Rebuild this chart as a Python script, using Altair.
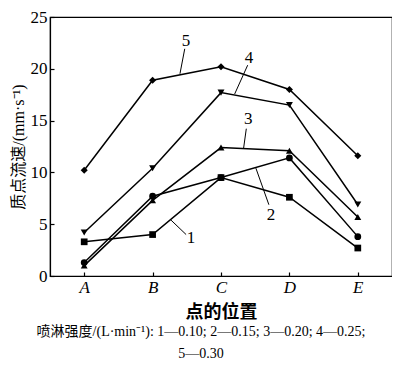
import altair as alt
import pandas as pd

categories = ["A", "B", "C", "D", "E"]
series_names = ["1", "2", "3", "4", "5"]
s1 = [3.3, 4.0, 9.5, 7.6, 2.7]
s2 = [1.3, 7.7, 9.5, 11.4, 3.8]
s3 = [1.0, 7.3, 12.4, 12.1, 5.7]
s4 = [4.2, 10.4, 17.7, 16.5, 6.9]
s5 = [10.2, 18.9, 20.2, 18.0, 11.6]

# annotation labels (data coordinates: x = category index, y = value)
label_text = ["1", "2", "3", "4", "5"]
label_x = [1.56, 2.73, 2.40, 2.41, 1.49]
label_y = [3.62, 5.86, 15.15, 21.0, 22.68]
lead_x = [1.49, 2.70, 2.37, 2.39, 1.47]
lead_y = [4.0, 6.88, 14.22, 20.35, 21.93]
lead_x2 = [1.27, 2.51, 2.33, 2.20, 1.40]
lead_y2 = [5.39, 10.41, 12.31, 17.57, 19.52]

caption = ["喷淋强度/(L·min⁻¹): 1—0.10; 2—0.15; 3—0.20; 4—0.25;", "5—0.30"]

SERIF = "Liberation Serif, Noto Sans CJK SC"

rows = []
for name, vals in zip(series_names, [s1, s2, s3, s4, s5]):
    for i, (c, v) in enumerate(zip(categories, vals)):
        rows.append({"series": name, "idx": i, "cat": c, "v": v})
df = pd.DataFrame(rows)

ann = pd.DataFrame({"t": label_text, "x": label_x, "y": label_y,
                    "lx": lead_x, "ly": lead_y, "lx2": lead_x2, "ly2": lead_y2})

label_expr = "[" + ",".join("'%s'" % c for c in categories) + "][datum.value]"

xscale = alt.Scale(domain=[-0.5, 4.5], nice=False, zero=False)
yscale = alt.Scale(domain=[0, 25], nice=False)

x_main = alt.X("idx:Q", scale=xscale, axis=alt.Axis(
    values=[0, 1, 2, 3, 4], labelExpr=label_expr, ticks=False, grid=False,
    labelFont="Liberation Serif", labelFontStyle="italic", labelFontSize=17,
    labelPadding=3, domainColor="black", domainWidth=1.2, labelColor="black",
    title="点的位置", titleFont=SERIF, titleFontSize=18, titleFontWeight="bold",
    titlePadding=8, titleColor="black"))
y_main = alt.Y("v:Q", scale=yscale, axis=alt.Axis(
    values=[0, 5, 10, 15, 20, 25], ticks=False, grid=False,
    labelFont="Liberation Serif", labelFontSize=17, labelPadding=3,
    domainColor="black", domainWidth=1.2, labelColor="black",
    title="质点流速/(mm·s⁻¹)", titleFont=SERIF, titleFontSize=16,
    titleFontWeight="normal", titlePadding=4, titleColor="black"))

base = alt.Chart(df)
lines = base.mark_line(color="black", strokeWidth=1.5).encode(
    x=x_main, y=y_main, detail="series:N")
points = base.mark_point(filled=True, color="black", opacity=1).encode(
    x="idx:Q", y="v:Q",
    shape=alt.Shape("series:N", scale=alt.Scale(
        domain=series_names,
        range=["square", "circle", "triangle-up", "triangle-down", "diamond"]), legend=None),
    size=alt.Size("series:N", scale=alt.Scale(
        domain=series_names, range=[45, 50, 40, 40, 25]), legend=None))

leaders = alt.Chart(ann).mark_rule(color="black", strokeWidth=1).encode(
    x="lx:Q", y="ly:Q", x2="lx2:Q", y2="ly2:Q")
labels = alt.Chart(ann).mark_text(font="Liberation Serif", fontSize=17, color="black").encode(
    x="x:Q", y="y:Q", text="t:N")

main = alt.layer(lines, points, leaders, labels)

ticks_layer = base.mark_point(opacity=0).encode(
    x=alt.X("idx:Q", scale=xscale, axis=alt.Axis(
        orient="bottom", values=[0, 1, 2, 3, 4], labels=False, domain=False,
        grid=False, ticks=True, tickSize=4, tickColor="black", tickWidth=1.2,
        offset=-4, title=None)),
    y=alt.Y("v:Q", scale=yscale, axis=alt.Axis(
        orient="left", values=[0, 5, 10, 15, 20, 25], labels=False, domain=False,
        grid=False, ticks=True, tickSize=4, tickColor="black", tickWidth=1.2,
        offset=-4, title=None)))

chart = alt.layer(main, ticks_layer).resolve_scale(
    x="independent", y="independent"
).properties(
    width=342, height=259,
    autosize=alt.AutoSizeParams(type="none"),
    padding={"left": 42, "top": 9, "right": 0, "bottom": 85},
    title=alt.TitleParams(text=caption, orient="bottom", anchor="middle",
                          frame="bounds", font=SERIF, fontSize=14,
                          fontWeight="normal", lineHeight=22, offset=4,
                          color="black"),
).configure_view(stroke="black", strokeWidth=1.2)

chart.save("out.html", embed_options={"renderer": "svg", "actions": False})
